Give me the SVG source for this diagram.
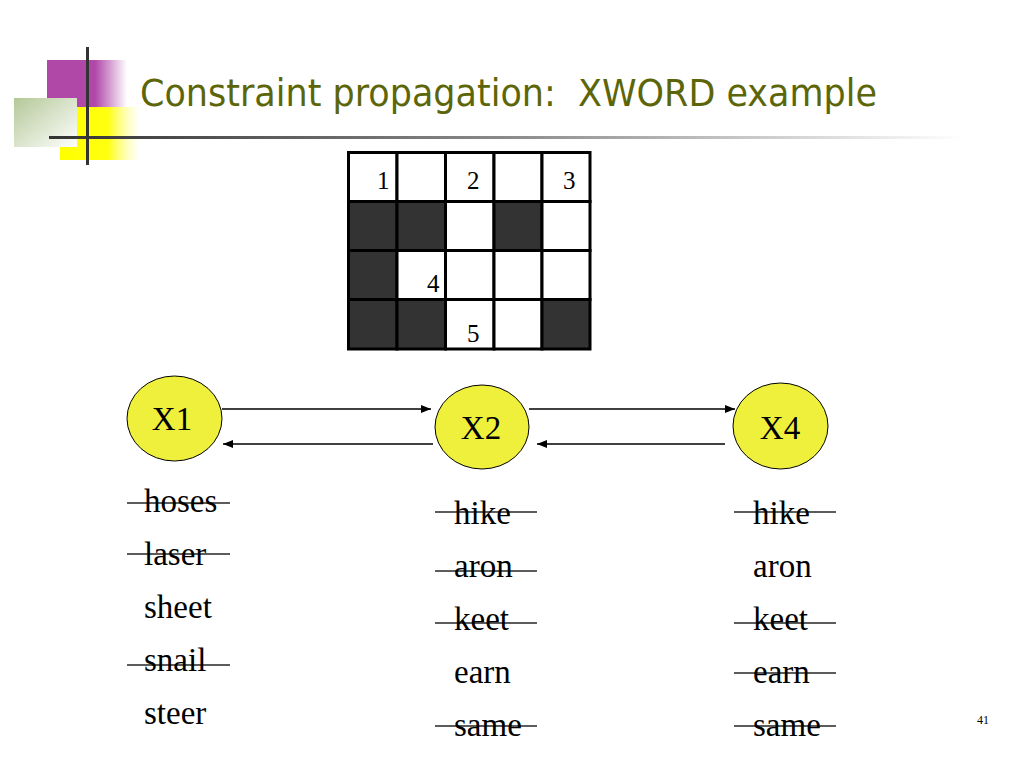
<svg xmlns="http://www.w3.org/2000/svg" width="1024" height="768" viewBox="0 0 1024 768">
<defs>
<style>
.title{font-family:"DejaVu Sans","Liberation Sans",sans-serif;font-size:37px;fill:#5c6608;white-space:pre}
.serif{font-family:"Liberation Serif","Times New Roman",serif;fill:#000}
.num{font-size:25px}
.lbl{font-size:33px;text-anchor:middle}
.word{font-size:33px}
.node{fill:#eef03c;stroke:#000;stroke-width:1}
.edge{stroke:#000;stroke-width:1.5;fill:none;marker-end:url(#ah)}
.strike{stroke:#000;stroke-width:1.3;opacity:0.85}
.cell{stroke:#000;stroke-width:3}
</style>
<marker id="ah" viewBox="0 0 10 8" refX="10" refY="4" markerWidth="10" markerHeight="8" markerUnits="userSpaceOnUse" orient="auto">
<path d="M0,0 L10,4 L0,8 z" fill="#000"/>
</marker>
<linearGradient id="gMag" x1="0" y1="0" x2="1" y2="0">
<stop offset="0" stop-color="#b048a8"/>
<stop offset="0.6" stop-color="#b048a8"/>
<stop offset="1" stop-color="#b048a8" stop-opacity="0"/>
</linearGradient>
<linearGradient id="gYel" x1="0" y1="0" x2="1" y2="0">
<stop offset="0" stop-color="#ffff00"/>
<stop offset="0.6" stop-color="#ffff10"/>
<stop offset="1" stop-color="#ffff80" stop-opacity="0"/>
</linearGradient>
<linearGradient id="gGrn" x1="0" y1="0" x2="1" y2="1">
<stop offset="0" stop-color="#b4c898"/>
<stop offset="1" stop-color="#ffffff"/>
</linearGradient>
<linearGradient id="gLine" x1="0" y1="0" x2="1" y2="0">
<stop offset="0" stop-color="#333333"/>
<stop offset="0.5" stop-color="#8a8a8a"/>
<stop offset="1" stop-color="#ffffff"/>
</linearGradient>
</defs>
<rect width="1024" height="768" fill="#fff"/>
<g id="decor">
<rect x="47" y="60" width="80" height="47" fill="url(#gMag)"/>
<rect x="60" y="107" width="80" height="53" fill="url(#gYel)"/>
<rect x="14" y="98" width="63" height="49" fill="url(#gGrn)"/>
<rect x="49" y="136" width="915" height="3" fill="url(#gLine)"/>
<rect x="86" y="47" width="3" height="118" fill="#333"/>
</g>
<text class="title" x="140" y="106" textLength="737" lengthAdjust="spacingAndGlyphs">Constraint propagation:  XWORD example</text>
<g id="grid">
<rect class="cell" x="348.5" y="152.5" width="48.5" height="49" fill="#fff"/>
<rect class="cell" x="397" y="152.5" width="48.5" height="49" fill="#fff"/>
<rect class="cell" x="445.5" y="152.5" width="48.5" height="49" fill="#fff"/>
<rect class="cell" x="494" y="152.5" width="48" height="49" fill="#fff"/>
<rect class="cell" x="542" y="152.5" width="48" height="49" fill="#fff"/>
<rect class="cell" x="348.5" y="201.5" width="48.5" height="49" fill="#333"/>
<rect class="cell" x="397" y="201.5" width="48.5" height="49" fill="#333"/>
<rect class="cell" x="445.5" y="201.5" width="48.5" height="49" fill="#fff"/>
<rect class="cell" x="494" y="201.5" width="48" height="49" fill="#333"/>
<rect class="cell" x="542" y="201.5" width="48" height="49" fill="#fff"/>
<rect class="cell" x="348.5" y="250.5" width="48.5" height="49" fill="#333"/>
<rect class="cell" x="397" y="250.5" width="48.5" height="49" fill="#fff"/>
<rect class="cell" x="445.5" y="250.5" width="48.5" height="49" fill="#fff"/>
<rect class="cell" x="494" y="250.5" width="48" height="49" fill="#fff"/>
<rect class="cell" x="542" y="250.5" width="48" height="49" fill="#fff"/>
<rect class="cell" x="348.5" y="299.5" width="48.5" height="49.5" fill="#333"/>
<rect class="cell" x="397" y="299.5" width="48.5" height="49.5" fill="#333"/>
<rect class="cell" x="445.5" y="299.5" width="48.5" height="49.5" fill="#fff"/>
<rect class="cell" x="494" y="299.5" width="48" height="49.5" fill="#fff"/>
<rect class="cell" x="542" y="299.5" width="48" height="49.5" fill="#333"/>
<text class="serif num" x="377" y="189">1</text>
<text class="serif num" x="467" y="189">2</text>
<text class="serif num" x="563" y="189">3</text>
<text class="serif num" x="427" y="292">4</text>
<text class="serif num" x="467" y="342">5</text>
</g>
<g id="connectors">
<line class="edge" x1="222" y1="409" x2="431" y2="409"/>
<line class="edge" x1="433" y1="444" x2="223" y2="444"/>
<line class="edge" x1="529" y1="409" x2="735" y2="409"/>
<line class="edge" x1="725" y1="444" x2="537" y2="444"/>
</g>
<g id="X1">
<ellipse class="node" cx="174.5" cy="418.5" rx="47.5" ry="42.5"/>
<text class="serif lbl" x="172" y="430">X1</text>
</g>
<g id="X2">
<ellipse class="node" cx="482" cy="427" rx="47" ry="42"/>
<text class="serif lbl" x="481" y="439">X2</text>
</g>
<g id="X4">
<ellipse class="node" cx="780.5" cy="426" rx="47.5" ry="43"/>
<text class="serif lbl" x="780" y="439">X4</text>
</g>
<g id="domain-X1">
<text class="serif word" x="144" y="512">hoses</text>
<text class="serif word" x="144" y="565">laser</text>
<text class="serif word" x="144" y="618">sheet</text>
<text class="serif word" x="144" y="671">snail</text>
<text class="serif word" x="144" y="724">steer</text>
<line class="strike" x1="127" y1="503" x2="230" y2="503"/>
<line class="strike" x1="127" y1="554" x2="230" y2="554"/>
<line class="strike" x1="127" y1="665" x2="230" y2="665"/>
</g>
<g id="domain-X2">
<text class="serif word" x="454" y="524">hike</text>
<text class="serif word" x="454" y="577">aron</text>
<text class="serif word" x="454" y="630">keet</text>
<text class="serif word" x="454" y="683">earn</text>
<text class="serif word" x="454" y="736">same</text>
<line class="strike" x1="435" y1="512" x2="537" y2="512"/>
<line class="strike" x1="435" y1="571" x2="537" y2="571"/>
<line class="strike" x1="435" y1="623" x2="537" y2="623"/>
<line class="strike" x1="435" y1="726" x2="537" y2="726"/>
</g>
<g id="domain-X4">
<text class="serif word" x="753" y="524">hike</text>
<text class="serif word" x="753" y="577">aron</text>
<text class="serif word" x="753" y="630">keet</text>
<text class="serif word" x="753" y="683">earn</text>
<text class="serif word" x="753" y="736">same</text>
<line class="strike" x1="734" y1="512" x2="836" y2="512"/>
<line class="strike" x1="734" y1="623" x2="836" y2="623"/>
<line class="strike" x1="734" y1="673" x2="836" y2="673"/>
<line class="strike" x1="734" y1="726" x2="836" y2="726"/>
</g>
<text class="serif" x="977" y="724" font-size="12">41</text>
</svg>
